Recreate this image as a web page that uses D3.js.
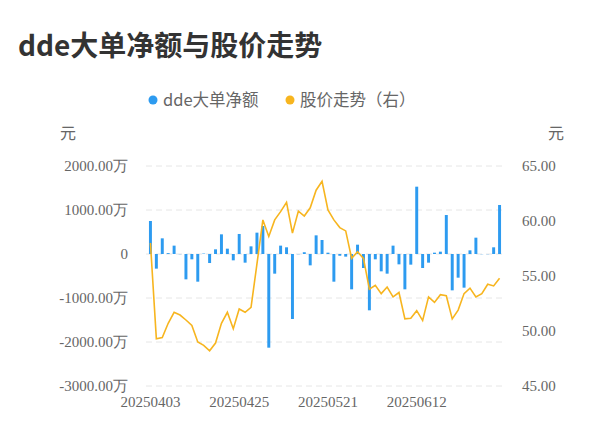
<!DOCTYPE html>
<html><head><meta charset="utf-8">
<script src="https://cdn.jsdelivr.net/npm/d3@7"></script>
<style>body{margin:0;background:#fff;font-family:"Noto Sans CJK SC","Noto Sans",sans-serif}</style>
</head><body>
<svg id="c" width="600" height="446"></svg>
<script>
const dates=["20250403","20250407","20250408","20250409","20250410","20250411","20250414","20250415","20250416","20250417","20250418","20250421","20250422","20250423","20250424","20250425","20250428","20250429","20250430","20250506","20250507","20250508","20250509","20250512","20250513","20250514","20250515","20250516","20250519","20250520","20250521","20250522","20250523","20250526","20250527","20250528","20250529","20250530","20250603","20250604","20250605","20250606","20250609","20250610","20250611","20250612","20250613","20250616","20250617","20250618","20250619","20250620","20250623","20250624","20250625","20250626","20250627","20250630","20250701","20250702"];
const ddeValues=[750,-333,356,20,190,-5,-576,-121,-629,10,-205,106,447,121,-144,455,-197,174,485,636,-2129,-447,190,152,-1477,-5,40,-258,424,318,30,-629,-40,-60,-803,212,-318,-1280,-121,-394,-447,190,-235,-803,-242,1530,-318,-197,30,53,886,-826,-538,-765,83,371,-5,-5,152,1114];
const priceValues=[58.0,49.3,49.4,50.7,51.7,51.45,51.0,50.5,49.0,48.7,48.2,48.9,50.7,51.7,50.2,52.0,51.7,52.15,56.1,60.1,58.6,60.1,60.85,61.7,58.9,60.9,60.45,61.2,62.8,63.6,61.0,60.1,59.4,59.1,56.6,57.2,56.6,53.8,54.15,53.4,54.0,53.1,53.5,51.1,51.15,51.85,50.95,53.1,52.6,53.3,53.2,51.1,51.9,53.4,53.9,53.1,53.4,54.25,54.1,54.8];
const leftTicks=[-3000,-2000,-1000,0,1000,2000];
const rightTicks=[45,50,55,60,65];
const svg=d3.select("#c");
const L=146,R=504,T=166,B=386;
const x=d3.scaleBand().domain(dates).range([L,R]).padding(0.5);
const yl=d3.scaleLinear().domain([-3000,2000]).range([B,T]);
const yr=d3.scaleLinear().domain([45,65]).range([B,T]);
const grey="#666";
svg.append("text").attr("x",18).attr("y",56).text("dde大单净额与股价走势").attr("font-size",28).attr("font-weight","bold").attr("fill","#333");
const lg=svg.append("g");
lg.append("circle").attr("cx",153).attr("cy",100).attr("r",4.5).attr("fill","#2d9bf0");
lg.append("text").attr("x",163).attr("y",106).text("dde大单净额").attr("fill",grey).attr("font-size",16.5);
lg.append("circle").attr("cx",290).attr("cy",100).attr("r",4.5).attr("fill","#f7b51f");
lg.append("text").attr("x",300).attr("y",106).text("股价走势（右）").attr("fill",grey).attr("font-size",16.5);
svg.append("text").attr("x",60).attr("y",139).text("元").attr("font-size",16).attr("fill",grey);
svg.append("text").attr("x",548).attr("y",139).text("元").attr("font-size",16).attr("fill",grey);
svg.append("g").selectAll("line").data(leftTicks).join("line")
 .attr("x1",L).attr("x2",R).attr("y1",d=>yl(d)).attr("y2",d=>yl(d))
 .attr("stroke","#e6e6e6").attr("stroke-dasharray","6,4");
const la=svg.append("g").attr("transform",`translate(${L},0)`).call(d3.axisLeft(yl).tickValues(leftTicks).tickSize(0).tickPadding(18).tickFormat(d=>d===0?"0":d.toFixed(2)+"万"));
const ra=svg.append("g").attr("transform",`translate(${R},0)`).call(d3.axisRight(yr).tickValues(rightTicks).tickSize(0).tickPadding(18).tickFormat(d=>d.toFixed(2)));
const xa=svg.append("g").attr("transform",`translate(0,${B})`).call(d3.axisBottom(x).tickValues(dates.filter((d,i)=>i%15==0)).tickSize(0).tickPadding(10));
[la,ra,xa].forEach(a=>{a.select(".domain").remove();a.selectAll("text").attr("font-size",15).attr("fill",grey).attr("font-family","'Liberation Serif','DejaVu Serif',serif");});
svg.append("g").selectAll("rect").data(ddeValues).join("rect")
 .attr("x",(d,i)=>x(dates[i])).attr("width",x.bandwidth())
 .attr("y",d=>yl(Math.max(0,d))).attr("height",d=>Math.abs(yl(d)-yl(0)))
 .attr("fill","#2d9bf0");
svg.append("path").datum(priceValues)
 .attr("d",d3.line().x((d,i)=>x(dates[i])+x.bandwidth()/2).y(d=>yr(d)))
 .attr("fill","none").attr("stroke","#f7b51f").attr("stroke-width",1.6);
</script></body></html>
